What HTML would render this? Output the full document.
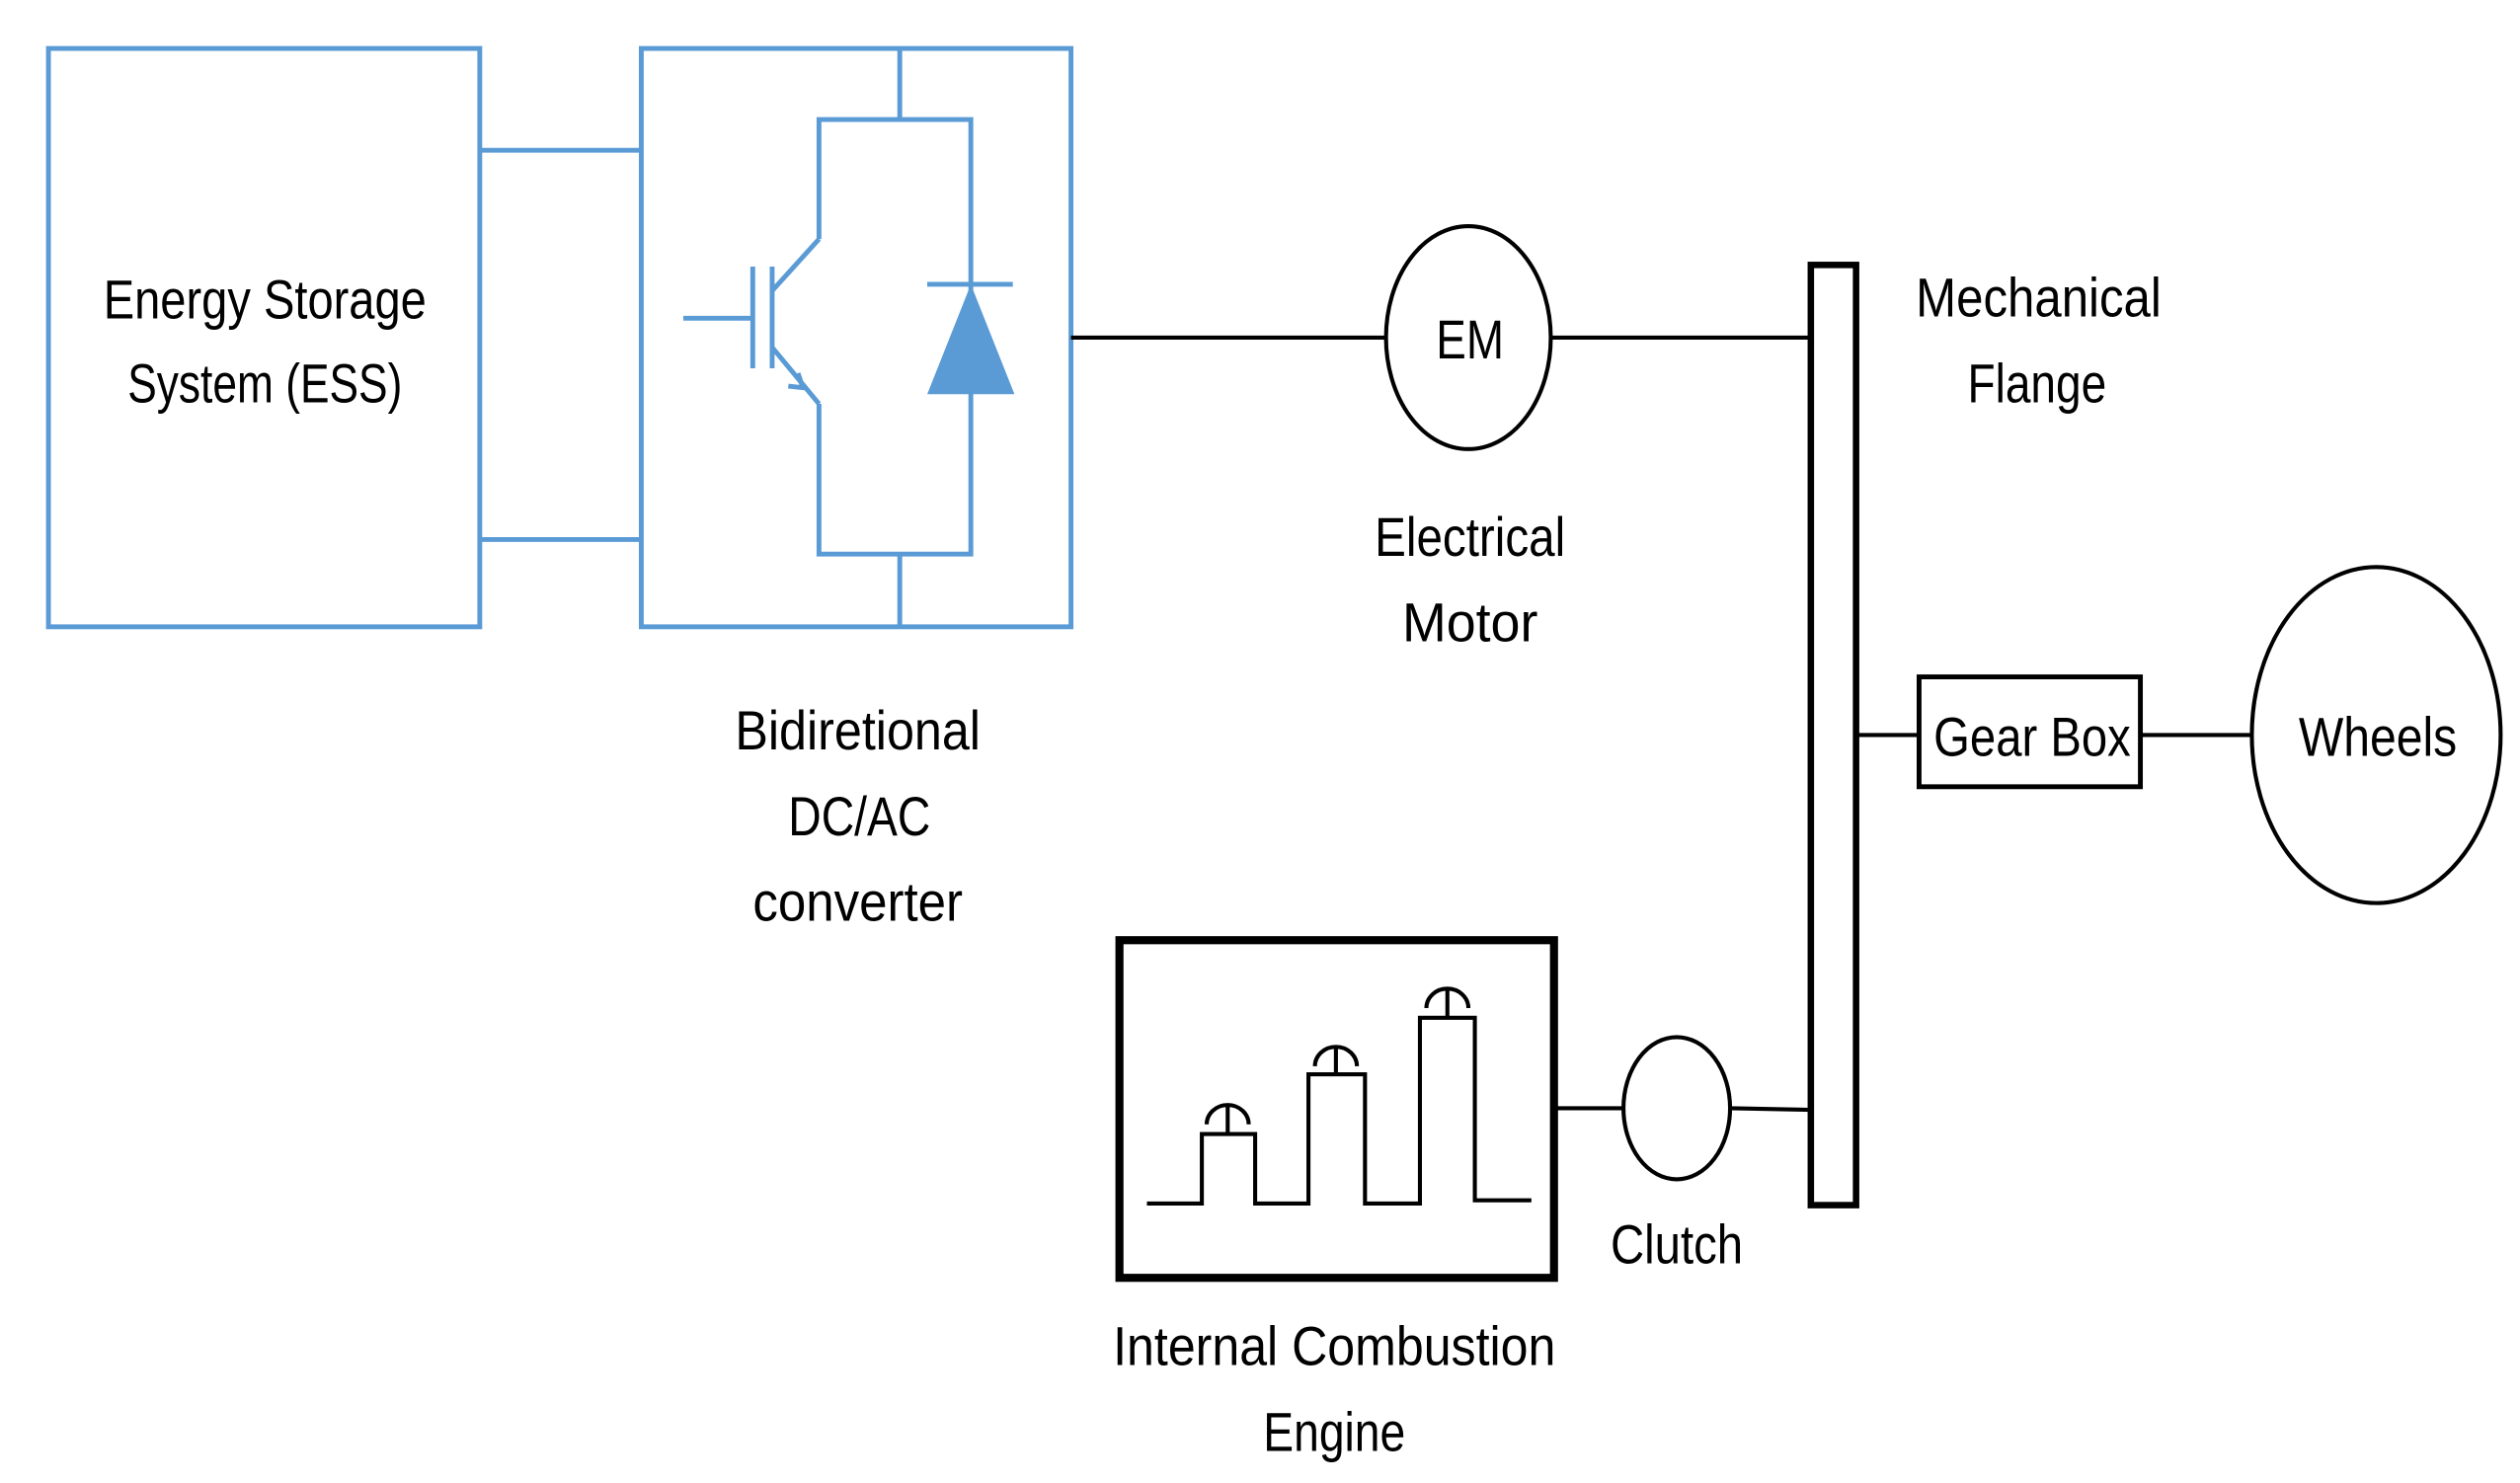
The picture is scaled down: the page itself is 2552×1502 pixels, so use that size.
<!DOCTYPE html>
<html><head><meta charset="utf-8"><style>html,body{margin:0;padding:0;background:#fff}svg{display:block}</style></head>
<body>
<svg width="2552" height="1502" viewBox="0 0 1560 918" preserveAspectRatio="none" xmlns="http://www.w3.org/2000/svg">
<rect width="1560" height="918" fill="#fff"/>
<g fill="none" stroke="#5b9bd5" stroke-width="3">
<rect x="30" y="30" width="267" height="358"/>
<line x1="297" y1="93" x2="397" y2="93"/>
<line x1="297" y1="334" x2="397" y2="334"/>
<rect x="397" y="30" width="266" height="358"/>
<polyline points="557,30 557,74"/>
<polyline points="507,148 507,74 601,74 601,343 507,343 507,250"/>
<line x1="557" y1="343" x2="557" y2="388"/>
<line x1="507" y1="148" x2="478" y2="180"/>
<line x1="478" y1="215" x2="507" y2="250"/>
<line x1="478" y1="165" x2="478" y2="228"/>
<line x1="466" y1="165" x2="466" y2="228"/>
<line x1="423" y1="197" x2="466" y2="197"/>
<polyline points="488,239 497,240 494,231"/>
<line x1="574" y1="176" x2="627" y2="176"/>
</g>
<polygon points="601,176 574,244 628,244" fill="#5b9bd5"/>
<g fill="none" stroke="#000" stroke-width="2.5">
<line x1="663" y1="209" x2="858" y2="209"/>
<ellipse cx="909" cy="209" rx="51" ry="69"/>
<line x1="960" y1="209" x2="1121" y2="209"/>
<line x1="1149" y1="455" x2="1188" y2="455"/>
<line x1="1325" y1="455" x2="1394" y2="455"/>
<ellipse cx="1471" cy="455" rx="77" ry="104"/>
<ellipse cx="1038" cy="686" rx="33" ry="44"/>
<line x1="962" y1="686" x2="1005" y2="686"/>
<line x1="1071" y1="686" x2="1121" y2="687"/>
<polyline points="710,745 744,745 744,702 777,702 777,745 810,745 810,665 845,665 845,745 879,745 879,630 913,630 913,743 948,743"/>
<line x1="760" y1="702" x2="760" y2="685"/>
<path d="M747,696 A13,12 0 0 1 773,696"/>
<line x1="827" y1="665" x2="827" y2="648"/>
<path d="M814,660 A13,12 0 0 1 840,660"/>
<line x1="896" y1="630" x2="896" y2="612"/>
<path d="M883,624 A13,12 0 0 1 909,624"/>
</g>
<rect x="1121" y="164" width="28" height="582" fill="none" stroke="#000" stroke-width="4"/>
<rect x="1188" y="419" width="137" height="68" fill="none" stroke="#000" stroke-width="3"/>
<rect x="693" y="582" width="269" height="209" fill="none" stroke="#000" stroke-width="5"/>
<g font-family="Liberation Sans, sans-serif" font-size="34" fill="#000" text-anchor="middle" lengthAdjust="spacingAndGlyphs">
<text x="164" y="197" textLength="200" lengthAdjust="spacingAndGlyphs">Energy Storage</text>
<text x="164" y="249" textLength="170" lengthAdjust="spacingAndGlyphs">System (ESS)</text>
<text x="531" y="464" textLength="152" lengthAdjust="spacingAndGlyphs">Bidiretional</text>
<text x="532" y="517" textLength="88" lengthAdjust="spacingAndGlyphs">DC/AC</text>
<text x="531" y="570" textLength="130" lengthAdjust="spacingAndGlyphs">converter</text>
<text x="910" y="222" textLength="42" lengthAdjust="spacingAndGlyphs">EM</text>
<text x="910" y="344" textLength="118" lengthAdjust="spacingAndGlyphs">Electrical</text>
<text x="910" y="397" textLength="84" lengthAdjust="spacingAndGlyphs">Motor</text>
<text x="1262" y="196" textLength="152" lengthAdjust="spacingAndGlyphs">Mechanical</text>
<text x="1261" y="249" textLength="86" lengthAdjust="spacingAndGlyphs">Flange</text>
<text x="1258" y="468" textLength="122" lengthAdjust="spacingAndGlyphs">Gear Box</text>
<text x="1472" y="468" textLength="98" lengthAdjust="spacingAndGlyphs">Wheels</text>
<text x="1038" y="782" textLength="82" lengthAdjust="spacingAndGlyphs">Clutch</text>
<text x="826" y="845" textLength="274" lengthAdjust="spacingAndGlyphs">Internal Combustion</text>
<text x="826" y="898" textLength="88" lengthAdjust="spacingAndGlyphs">Engine</text>
</g>
</svg>
</body></html>
